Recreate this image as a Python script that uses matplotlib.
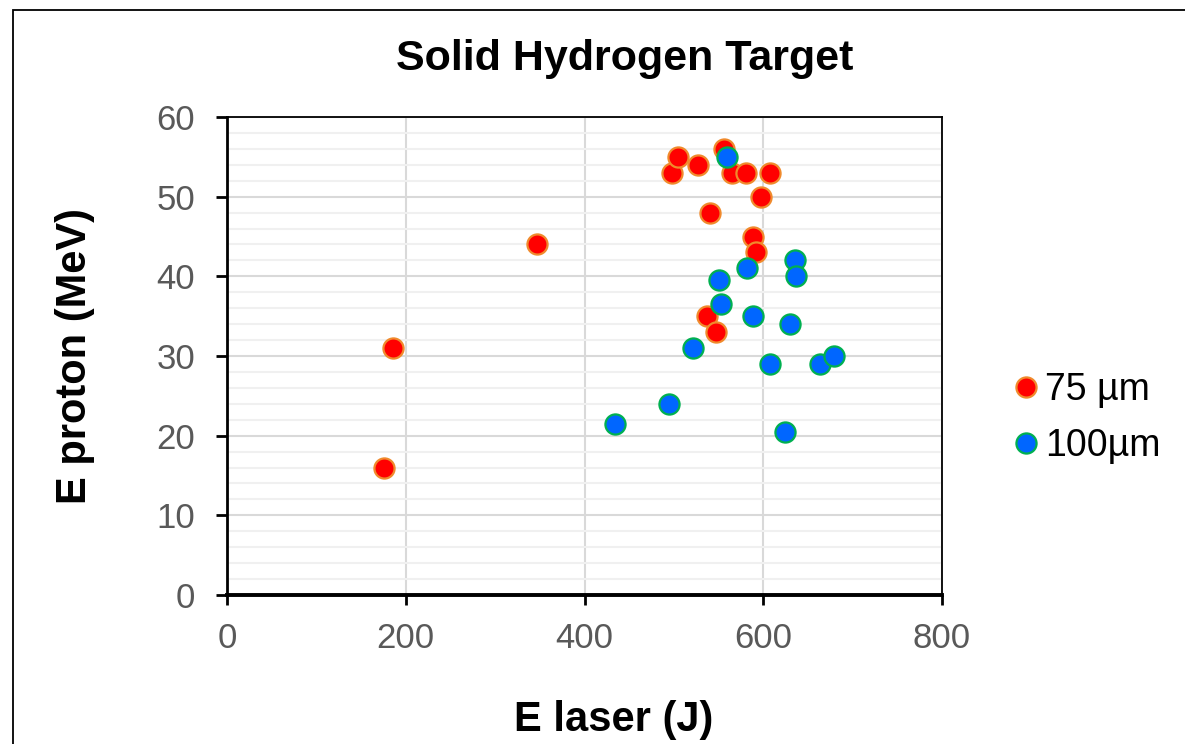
import matplotlib
matplotlib.use("Agg")
import matplotlib.pyplot as plt
from matplotlib.patches import Rectangle
from matplotlib.ticker import MultipleLocator

# data
laser_75 = [176, 186, 347, 498, 505, 527, 556, 565, 581, 608, 598, 540, 588, 592, 537, 547]
proton_75 = [16, 31, 44, 53, 55, 54, 56, 53, 53, 53, 50, 48, 45, 43, 35, 33]

laser_100 = [559, 635, 637, 582, 550, 553, 589, 630, 521, 608, 663, 679, 495, 434, 624]
proton_100 = [55, 42, 40, 41, 39.5, 36.5, 35, 34, 31, 29, 29, 30, 24, 21.5, 20.5]

series_labels = ["75 µm", "100µm"]

plt.rcParams['font.family'] = ['Liberation Sans', 'DejaVu Sans']

W, H = 1185, 744
fig = plt.figure(figsize=(W / 100, H / 100), dpi=100)
ax = fig.add_axes([227 / W, 1 - 595 / H, (942 - 227) / W, (595 - 117) / H])

ax.plot(laser_75, proton_75, 'o', ms=14.5, mfc='#ff0000', mec='#f08a2c', mew=1.6,
        label=series_labels[0], zorder=3, clip_on=False)
ax.plot(laser_100, proton_100, 'o', ms=14.5, mfc='#0066ff', mec='#00b050', mew=1.6,
        label=series_labels[1], zorder=3, clip_on=False)

ax.set_xlim(0, 800)
ax.set_ylim(0, 60)
ax.xaxis.set_major_locator(MultipleLocator(200))
ax.yaxis.set_major_locator(MultipleLocator(10))
ax.yaxis.set_minor_locator(MultipleLocator(2))

# gridlines
ax.grid(which='minor', axis='y', color='#f0f0f0', lw=1.5, zorder=0)
ax.grid(which='major', axis='both', color='#d9d9d9', lw=1.5, zorder=1)
ax.set_axisbelow(True)

for side, w in [('left', 2.0), ('bottom', 2.8), ('top', 1.3), ('right', 1.3)]:
    ax.spines[side].set_color('black')
    ax.spines[side].set_linewidth(w)
    ax.spines[side].set_zorder(4)

ax.tick_params(axis='y', which='major', direction='out', length=8, width=2,
               pad=15, labelsize=25, labelcolor='#595959')
ax.tick_params(axis='x', which='major', direction='out', length=7.5, width=2,
               pad=12, labelsize=25, labelcolor='#595959')
ax.tick_params(which='minor', length=0)

fig.text(625 / W, 1 - 59 / H, 'Solid Hydrogen Target', fontsize=31,
         fontweight='bold', ha='center', va='center')
fig.text(614 / W, 1 - 720 / H, 'E laser (J)', fontsize=30,
         fontweight='bold', ha='center', va='center')
fig.text(75 / W, 1 - 356 / H, 'E proton (MeV)', fontsize=30,
         fontweight='bold', ha='center', va='center', rotation=90)

fig.legend(loc='center left', bbox_to_anchor=(1015 / W, 1 - 418 / H),
           frameon=False, fontsize=27, handlelength=0.6, handletextpad=0.2,
           labelspacing=0.55, borderpad=0, borderaxespad=0, markerscale=1.0)

# outer chart border (runs off the right and bottom edges)
fig.patches.append(Rectangle((13 / W, -0.1), 1.1, 1.1 - 10 / H,
                             transform=fig.transFigure, fill=False,
                             edgecolor='black', lw=1.3))

fig.savefig('out.png', dpi=100)
